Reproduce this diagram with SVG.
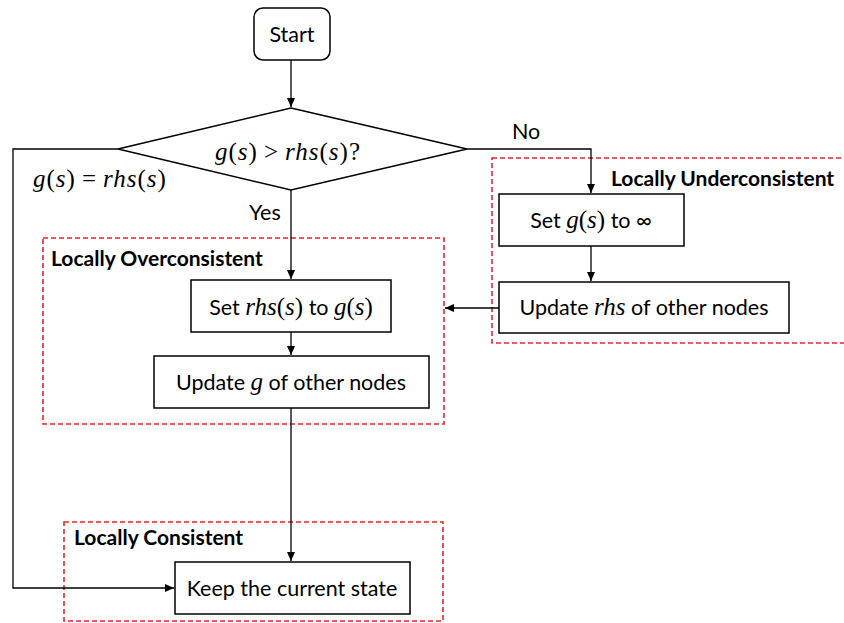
<svg xmlns="http://www.w3.org/2000/svg" width="844" height="623" viewBox="0 0 844 623">
<style>
.box{fill:#fff;stroke:#000;stroke-width:1.5}
.grp{fill:none;stroke:#e8262a;stroke-width:1.6;stroke-dasharray:5 3}
.ln{fill:none;stroke:#000;stroke-width:1.3}
.t{font-family:Lato,"Liberation Sans",sans-serif;font-size:21.5px;fill:#000}
.b{font-family:Lato,"Liberation Sans",sans-serif;font-size:21px;font-weight:bold;fill:#000}
.m{font-family:"Liberation Serif",serif;font-style:italic;font-size:25px}
.u{font-family:"Liberation Serif",serif;font-style:normal;font-size:25px}
.mx{letter-spacing:1px}
</style>
<defs>
<marker id="ah" markerWidth="10" markerHeight="10" refX="9" refY="5" orient="auto" markerUnits="userSpaceOnUse">
<path d="M0,1 L9,5 L0,9 Z" fill="#000"/>
</marker>
</defs>
<rect width="844" height="623" fill="#fff"/>
<g id="groups">
<rect class="grp" x="492" y="158" width="360" height="185"/>
<text class="b" x="611" y="186">Locally Underconsistent</text>
<rect class="grp" x="43" y="238" width="401" height="186"/>
<text class="b" x="51" y="266">Locally Overconsistent</text>
<rect class="grp" x="64" y="522" width="379" height="99"/>
<text class="b" x="74" y="545">Locally Consistent</text>
</g>
<g id="connectors">
<line class="ln" x1="291" y1="60" x2="291" y2="107" marker-end="url(#ah)"/>
<polyline class="ln" points="118,149 13,149 13,588 174,588" marker-end="url(#ah)"/>
<polyline class="ln" points="467,149 591,149 591,193" marker-end="url(#ah)"/>
<line class="ln" x1="291" y1="190" x2="291" y2="279" marker-end="url(#ah)"/>
<line class="ln" x1="591" y1="246" x2="591" y2="281" marker-end="url(#ah)"/>
<line class="ln" x1="499" y1="308" x2="445" y2="308" marker-end="url(#ah)"/>
<line class="ln" x1="291" y1="332" x2="291" y2="355" marker-end="url(#ah)"/>
<line class="ln" x1="291" y1="408" x2="291" y2="561" marker-end="url(#ah)"/>
<text class="t" x="512" y="139">No</text>
<text class="t" x="249" y="220">Yes</text>
<text class="mx" x="33" y="187"><tspan class="m">g</tspan><tspan class="u">(</tspan><tspan class="m">s</tspan><tspan class="u">)</tspan><tspan class="u" dx="6">=</tspan><tspan class="m" dx="6">rhs</tspan><tspan class="u">(</tspan><tspan class="m">s</tspan><tspan class="u">)</tspan></text>
</g>
<g id="start">
<rect class="box" x="254" y="8" width="76" height="52" rx="9"/>
<text class="t" x="292" y="42" text-anchor="middle">Start</text>
</g>
<g id="decision">
<polygon class="box" points="291,108 467,149 291,190 118,149"/>
<text class="mx" x="288" y="160" text-anchor="middle"><tspan class="m">g</tspan><tspan class="u">(</tspan><tspan class="m">s</tspan><tspan class="u">)</tspan><tspan class="u" dx="6">&gt;</tspan><tspan class="m" dx="6">rhs</tspan><tspan class="u">(</tspan><tspan class="m">s</tspan><tspan class="u">)?</tspan></text>
</g>
<g id="setg">
<rect class="box" x="499" y="194" width="185" height="52"/>
<text x="591" y="228" text-anchor="middle"><tspan class="t">Set </tspan><tspan class="m">g</tspan><tspan class="u">(</tspan><tspan class="m">s</tspan><tspan class="u">)</tspan><tspan class="t"> to ∞</tspan></text>
</g>
<g id="updaterhs">
<rect class="box" x="499" y="282" width="290" height="51"/>
<text x="644" y="315" text-anchor="middle"><tspan class="t">Update </tspan><tspan class="m">rhs</tspan><tspan class="t"> of other nodes</tspan></text>
</g>
<g id="setrhs">
<rect class="box" x="191" y="280" width="200" height="52"/>
<text x="291" y="315" text-anchor="middle"><tspan class="t">Set </tspan><tspan class="m">rhs</tspan><tspan class="u">(</tspan><tspan class="m">s</tspan><tspan class="u">)</tspan><tspan class="t"> to </tspan><tspan class="m">g</tspan><tspan class="u">(</tspan><tspan class="m">s</tspan><tspan class="u">)</tspan></text>
</g>
<g id="updateg">
<rect class="box" x="154" y="356" width="275" height="52"/>
<text x="291" y="390" text-anchor="middle"><tspan class="t">Update </tspan><tspan class="m">g</tspan><tspan class="t"> of other nodes</tspan></text>
</g>
<g id="keep">
<rect class="box" x="175" y="562" width="235" height="52"/>
<text class="t" x="292" y="596" text-anchor="middle">Keep the current state</text>
</g>
</svg>
